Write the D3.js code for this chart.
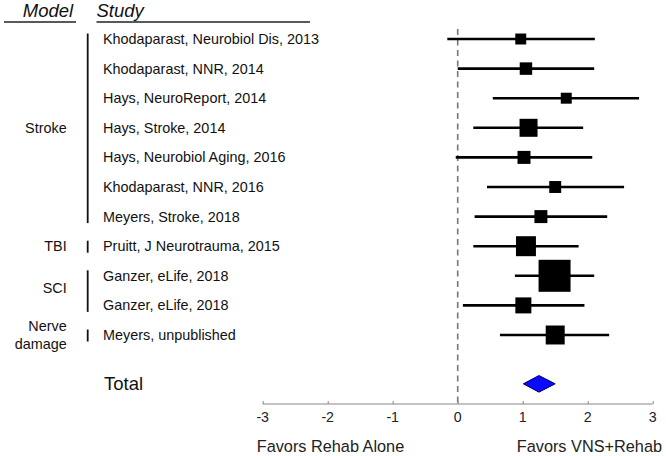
<!DOCTYPE html>
<html>
<head>
<meta charset="utf-8">
<script src="https://cdn.jsdelivr.net/npm/d3@7/dist/d3.min.js"></script>
<style>
  html, body { margin: 0; padding: 0; background: #fff; }
  svg { display: block; font-family: "Liberation Sans", Arial, Helvetica, sans-serif; }
</style>
</head>
<body>
<svg id="chart" width="666" height="456"></svg>
<script>
// ---- data ----
const studies = [
  "Khodaparast, Neurobiol Dis, 2013",
  "Khodaparast, NNR, 2014",
  "Hays, NeuroReport, 2014",
  "Hays, Stroke, 2014",
  "Hays, Neurobiol Aging, 2016",
  "Khodaparast, NNR, 2016",
  "Meyers, Stroke, 2018",
  "Pruitt, J Neurotrauma, 2015",
  "Ganzer, eLife, 2018",
  "Ganzer, eLife, 2018",
  "Meyers, unpublished"
];
const effect = [0.97, 1.05, 1.67, 1.09, 1.02, 1.50, 1.28, 1.05, 1.49, 1.01, 1.50];
const ciLow  = [-0.16, 0.00, 0.54, 0.24, -0.03, 0.45, 0.26, 0.24, 0.88, 0.08, 0.65];
const ciHigh = [2.11, 2.10, 2.79, 1.93, 2.07, 2.56, 2.30, 1.86, 2.10, 1.95, 2.33];
const weight = [3.7, 4.8, 3.7, 10.0, 5.2, 4.4, 5.2, 12.3, 31.6, 7.9, 11.1];
const modelNames = [["Stroke"], ["TBI"], ["SCI"], ["Nerve", "damage"]];
const modelFirst = [0, 7, 8, 10];
const modelLast  = [6, 7, 9, 10];
const totalEffect = 1.25, totalLow = 1.01, totalHigh = 1.50;
const xTicks = [-3, -2, -1, 0, 1, 2, 3];
const xLabelLeft = "Favors Rehab Alone";
const xLabelRight = "Favors VNS+Rehab";

// ---- layout ----
const svg = d3.select("#chart");
const x = d3.scaleLinear().domain([-3, 3]).range([262.7, 652.7]);
const y = d3.scaleLinear().domain([0, 10]).range([39, 335]);
const totalRow = 11.65;
const size = d3.scaleSqrt().domain([0, 31.6]).range([0, 32]);
const axisY = 404;

// header
svg.append("text").attr("x", 48).attr("y", 16.5).attr("text-anchor", "middle")
  .attr("font-size", 18.5).attr("font-style", "italic").attr("fill", "#111").text("Model");
svg.append("text").attr("x", 96.5).attr("y", 16.5)
  .attr("font-size", 18.5).attr("font-style", "italic").attr("fill", "#111").text("Study");
svg.append("line").attr("x1", 4).attr("x2", 76).attr("y1", 22).attr("y2", 22)
  .attr("stroke", "#222").attr("stroke-width", 1.4);
svg.append("line").attr("x1", 96.5).attr("x2", 310).attr("y1", 22).attr("y2", 22)
  .attr("stroke", "#222").attr("stroke-width", 1.4);

// zero line
svg.append("line").attr("x1", x(0)).attr("x2", x(0)).attr("y1", 29).attr("y2", axisY)
  .attr("stroke", "#777").attr("stroke-width", 1.6).attr("stroke-dasharray", "6,4.5");

// study labels
svg.append("g").selectAll("text").data(studies).join("text")
  .attr("x", 103).attr("y", (d, i) => y(i)).attr("dy", "0.35em")
  .attr("font-size", 14.4).attr("fill", "#111").text(d => d);

// model groups
const mg = svg.append("g");
modelNames.forEach((names, k) => {
  const y0 = y(modelFirst[k]) - 5.5, y1 = y(modelLast[k]) + 6.5;
  mg.append("line").attr("x1", 87.7).attr("x2", 87.7).attr("y1", y0).attr("y2", y1)
    .attr("stroke", "#111").attr("stroke-width", 1.8);
  const mid = (y(modelFirst[k]) + y(modelLast[k])) / 2 - (names.length === 1 && modelFirst[k] !== modelLast[k] && k === 2 ? 3 : 0);
  const t = mg.append("text").attr("text-anchor", "end").attr("font-size", 14.4).attr("fill", "#111");
  names.forEach((n, j) => {
    t.append("tspan").attr("x", 66.7)
      .attr("y", mid + (j - (names.length - 1) / 2) * 17.5).attr("dy", "0.35em").text(n);
  });
});

// CIs and squares
const rows = svg.append("g");
rows.selectAll("line").data(effect).join("line")
  .attr("x1", (d, i) => x(ciLow[i])).attr("x2", (d, i) => x(ciHigh[i]))
  .attr("y1", (d, i) => y(i)).attr("y2", (d, i) => y(i))
  .attr("stroke", "#000").attr("stroke-width", 2.6);
rows.selectAll("rect").data(effect).join("rect")
  .attr("x", (d, i) => x(d) - size(weight[i]) / 2)
  .attr("y", (d, i) => y(i) - size(weight[i]) / 2)
  .attr("width", (d, i) => size(weight[i]))
  .attr("height", (d, i) => size(weight[i]))
  .attr("fill", "#000");

// total
const ty = y(totalRow);
svg.append("text").attr("x", 104).attr("y", ty).attr("dy", "0.35em")
  .attr("font-size", 18.5).attr("fill", "#111").text("Total");
svg.append("path")
  .attr("d", `M${x(totalLow)},${ty} L${x(totalEffect)},${ty - 8.3} L${x(totalHigh)},${ty} L${x(totalEffect)},${ty + 8.3} Z`)
  .attr("fill", "#0a0aff").attr("stroke", "#00005a").attr("stroke-width", 1);

// axis
const axis = d3.axisTop(x).tickValues(xTicks).tickSize(3).tickFormat(d3.format("d"));
const ag = svg.append("g").attr("transform", `translate(0,${axisY})`).call(axis);
ag.select(".domain").attr("stroke", "#888").attr("stroke-width", 1.2).attr("d", `M${x(-3)},0H${x(3)}`);
ag.selectAll(".tick line").attr("stroke", "#888");
ag.selectAll(".tick text").remove();
svg.append("g").selectAll("text").data(xTicks).join("text")
  .attr("x", d => x(d)).attr("y", 421.5).attr("text-anchor", "middle")
  .attr("font-size", 14.2).attr("fill", "#222").text(d => d3.format("d")(d).replace("−", "-"));

svg.append("text").attr("x", 256.7).attr("y", 452).attr("font-size", 16.3).attr("fill", "#222").text(xLabelLeft);
svg.append("text").attr("x", 662).attr("y", 452).attr("text-anchor", "end").attr("font-size", 16.3).attr("fill", "#222").text(xLabelRight);
</script>
</body>
</html>
